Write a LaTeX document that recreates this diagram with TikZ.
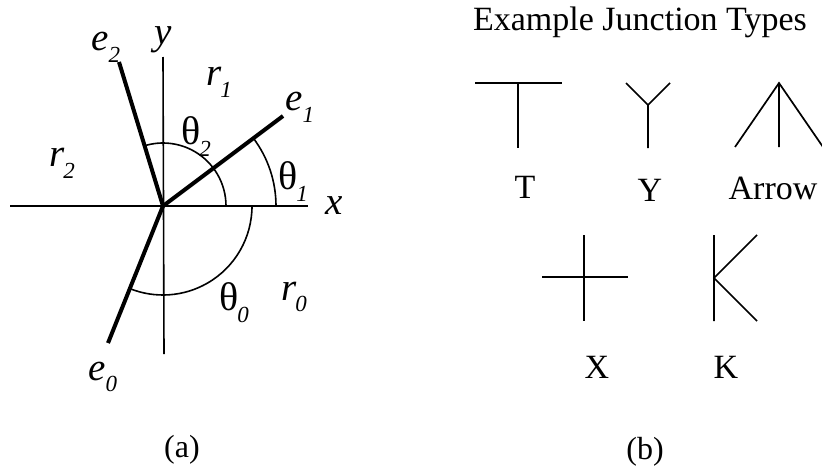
\documentclass[tikz,border=0pt]{standalone}
\usepackage{fontspec}
\setmainfont{Liberation Serif}
\newcommand\symlab[2]{#1\kern-0.02em\raisebox{-0.3em}{\fontsize{23}{23}\selectfont\itshape #2}}
\begin{document}
\begin{tikzpicture}[x=1pt,y=1pt,
  axisline/.style={line width=1.6pt},
  edgeline/.style={line width=4pt},
  arcline/.style={line width=1.6pt},
  junc/.style={line width=1.7pt},
  lbl/.style={inner sep=0pt, font=\fontsize{39}{40}\selectfont\itshape},
  thlbl/.style={inner sep=0pt, font=\fontsize{40}{42}\selectfont},
  word/.style={inner sep=0pt, font=\fontsize{34}{38}\selectfont},
  sublbl/.style={inner sep=0pt, font=\fontsize{32}{36}\selectfont}]
\useasboundingbox (0,0) rectangle (822,-466);
% ---------- (a) ----------
\coordinate (O) at (163,-206);
\coordinate (X1) at (10,-206);
\coordinate (X2) at (308,-206);
\coordinate (Y1) at (163,-57);
\coordinate (Y2) at (164,-354);
\coordinate (E2) at (119,-62);
\coordinate (E1) at (283,-116);
\coordinate (E0) at (108,-343);
\draw[axisline] (X1) -- (X2);
\draw[axisline] (Y1) -- (Y2);
\draw[edgeline] (O) -- (E2);
\draw[edgeline] (O) -- (E1);
\draw[edgeline] (O) -- (E0);
\draw[arcline] ([shift={(0:113)}]O) arc[start angle=0,end angle=37,radius=113];
\draw[arcline] ([shift={(0:63)}]O) arc[start angle=0,end angle=107,radius=63];
\draw[arcline] ([shift={(0:89)}]O) arc[start angle=0,end angle=-112,radius=89];
\node[lbl] (le2) at (106,-47) {\symlab{e}{2}};
\node[lbl] (ly) at (163,-40) {y};
\node[lbl] (lr1) at (219,-82) {\symlab{r}{1}};
\node[lbl] (le1) at (300,-107) {\symlab{e}{1}};
\node[thlbl] (lt2) at (196,-137) {\symlab{θ}{2}};
\node[lbl] (lr2) at (62,-163) {\symlab{r}{2}};
\node[thlbl] (lt1) at (293,-182) {\symlab{θ}{1}};
\node[lbl] (lx) at (334,-206) {x};
\node[thlbl] (lt0) at (234,-303) {\symlab{θ}{0}};
\node[lbl] (lr0) at (294,-297) {\symlab{r}{0}};
\node[lbl] (le0) at (103,-377) {\symlab{e}{0}};
\node[sublbl] (ca) at (182,-450) {(a)};
% ---------- (b) ----------
\node[word] (title) at (640,-22) {Example Junction Types};
% T
\coordinate (Ta) at (475,-83);
\coordinate (Tb) at (562,-83);
\coordinate (Tc) at (518,-83);
\coordinate (Td) at (518,-148);
\draw[junc] (Ta) -- (Tb) (Tc) -- (Td);
% Y
\coordinate (Yc) at (648,-105);
\coordinate (Yd) at (648,-148);
\coordinate (Ya) at (626,-83);
\coordinate (Yb) at (670,-83);
\draw[junc] (Ya) -- (Yc) -- (Yb) (Yc) -- (Yd);
% Arrow
\coordinate (Aa) at (779,-83);
\coordinate (Al) at (735,-147);
\coordinate (Am) at (779,-147);
\coordinate (Ar) at (823,-147);
\draw[junc] (Al) -- (Aa) -- (Ar) (Aa) -- (Am);
% X
\coordinate (Xl) at (542,-277);
\coordinate (Xr) at (628,-277);
\coordinate (Xt) at (584,-235);
\coordinate (Xb) at (584,-321);
\draw[junc] (Xl) -- (Xr) (Xt) -- (Xb);
% K
\coordinate (Kt) at (714,-235);
\coordinate (Kb) at (714,-321);
\coordinate (Km) at (714,-278);
\coordinate (Ku) at (757,-235);
\coordinate (Kd) at (757,-321);
\draw[junc] (Kt) -- (Kb) (Ku) -- (Km) -- (Kd);
% labels
\node[word] (lT) at (525,-187) {T};
\node[word] (lY) at (650,-190) {Y};
\node[word] (lA) at (773,-188) {Arrow};
\node[word] (lX) at (597,-367) {X};
\node[word] (lK) at (726,-367) {K};
\node[sublbl] (cb) at (645,-452) {(b)};
\end{tikzpicture}
\end{document}
